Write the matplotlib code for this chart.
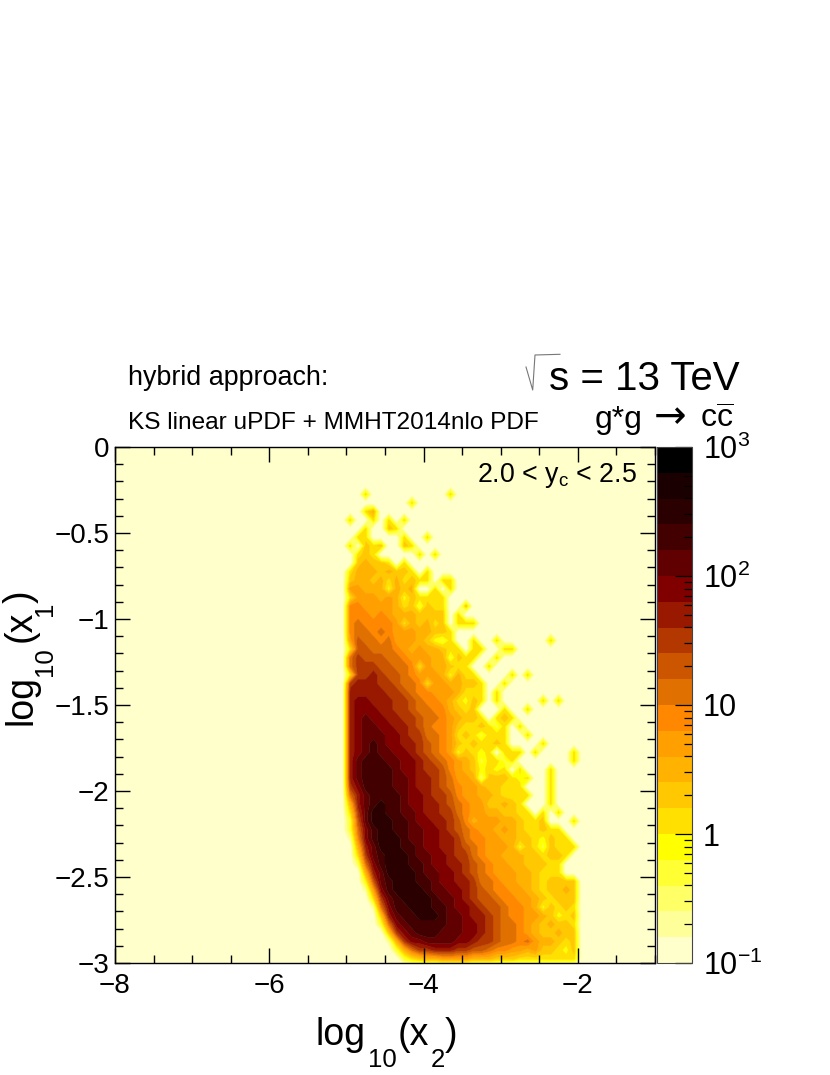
import numpy as np
import matplotlib
matplotlib.use("Agg")
import matplotlib.pyplot as plt
from matplotlib.colors import ListedColormap, BoundaryNorm
from matplotlib.lines import Line2D

plt.rcParams["font.family"] = ["Liberation Sans", "DejaVu Sans"]
plt.rcParams["mathtext.fontset"] = "custom"
plt.rcParams["mathtext.rm"] = "Liberation Sans"
plt.rcParams["mathtext.it"] = "Liberation Sans"
plt.rcParams["mathtext.bf"] = "Liberation Sans"

# Palette of the z axis, bottom band to top band (20 bands, 5 per decade)
BAND_COLORS = ["#ffffcc", "#ffff99", "#ffff66", "#ffff33", "#ffff00",
               "#ffe000", "#ffc800", "#ffb300", "#ffa000", "#ff8800",
               "#e07000", "#cc5500", "#b33800", "#981800", "#800000",
               "#600000", "#420000", "#2b0000", "#1a0000", "#000000"]
BAND_CODES = "0123456789abcdefghij"

# log10(x1) bin centres of the table below, top row first
Y_CENTRES = [-0.275 - 0.05 * i for i in range(55)]
# first column of each row sits at log10(x2) = -4.95, one column per 0.1
FIRST_COL_X = -4.95

BAND_ROWS = [
    "00500000000005",
    "000000005",
    "0057",
    "50050505",
    "0050065",
    "05500005005",
    "506560065",
    "056500000505",
    "06766505",
    "57776766505",
    "67767575655055",
    "88777476700505",
    "5888787465555",
    "9988887563655006",
    "999898777666605",
    "9a999985767560555",
    "9aa9a988877665",
    "8baa9a888764350050050000005",
    "5bbaaa9878776550550055",
    "acbbbaa9888773655005",
    "acccbbaa95877655005",
    "5ccdcbba98887475500005" + "05",
    "cdddccbaa958877665005",
    "dddddccba99888755505",
    "deedddccba998754650500000505",
    "deeeddccbaa99765600050" + "05",
    "defeeddccbaa9876650565",
    "deffeeddcba998655653505",
    "defffeedccaa985653555005",
    "defgfeeddcba98656556500005",
    "defgffeedcba984654505550500005",
    "dfgggffeedcba98763553500000005",
    "dfggggfeedccb98764545050005",
    "dfggggffeddcba8872666545005",
    "ceggggffeddcba9887665550005",
    "adfggggfeedccb9887765555005",
    "7dfghggfeeddcba988667650005",
    "5cfhhggffeddcca9887766550505",
    "3bfhhhggfeeddcb978887765560005",
    "3aeghhggffeedcba988787655655",
    "19eghhhgffeeddca9988776654655",
    "07dfhhhggfeeddcba9888746536555",
    "05cfghhhgffeedcca988777665665",
    "02aeghhhggfeeddcba9887766655",
    "007dfhhhhgffeedcba9888776555",
    "004bfghhhggfeeddcaa98877656666",
    "0018eghhhhgffeedcba99887656676",
    "0005cfghhhhgffedcbba9988765666",
    "0001aegghhhggfeedcbba998746565",
    "00006dfgghhhgffeddcba998876456",
    "00003aefgggggffeedcbaa98767665",
    "000006cefgggfffeedcbaa98766766",
    "0000017ceeffffeedccbaa9a877656",
    "00000037accdddccbba99887866546",
    "000000035677888877766655555555",
]

Y_TICKS = [-3, -2.5, -2, -1.5, -1, -0.5, 0]
Y_TICK_LABELS = ["\u22123", "\u22122.5", "\u22122", "\u22121.5", "\u22121", "\u22120.5", "0"]
X_TICKS = [-8, -6, -4, -2]
X_TICK_LABELS = ["\u22128", "\u22126", "\u22124", "\u22122"]
Z_TICKS = [-1, 0, 1, 2, 3]
Z_TICK_LABELS = [r"$10^{-1}$", "1", "10", r"$10^{2}$", r"$10^{3}$"]
Z_MINOR = [2, 3, 4, 5, 6, 7, 8, 9]


# Turn the band rows into a log10(z) grid padded with empty bins up to the frame
def build_grid():
    x = np.arange(-7.95, -0.95, 0.1)
    y = np.array([-0.025 - 0.05 * i for i in range(5)] + Y_CENTRES + [-3.025])
    z = np.full((len(y), len(x)), -1.0)
    first = int(round((FIRST_COL_X - x[0]) / 0.1))
    for r, row in enumerate(BAND_ROWS):
        for c, ch in enumerate(row):
            band = BAND_CODES.index(ch)
            if band > 0:
                z[r + 5, first + c] = -1 + 0.2 * (band + 0.5)
    return x, y, z


# Pixel position in the 830x1075 picture to figure coordinates
def fx(px):
    return px / 830


def fy(py):
    return 1 - py / 1075


def main():
    x, y, z = build_grid()
    levels = np.linspace(-1, 3, 21)
    cmap = ListedColormap(BAND_COLORS)
    norm = BoundaryNorm(levels, cmap.N)

    fig = plt.figure(figsize=(8.3, 10.75), dpi=100)
    ax = fig.add_axes([fx(115), fy(963), fx(655) - fx(115), fy(447) - fy(963)])
    ax.set_facecolor(BAND_COLORS[0])
    cf = ax.contourf(x, y, z, levels=levels, cmap=cmap, norm=norm, antialiased=True)
    cf.set_edgecolor("face")
    cf.set_linewidth(0.3)
    ax.set_xlim(-8, -1)
    ax.set_ylim(-3, 0)

    # ROOT style ticks, inside on all four sides
    ax.set_xticks(X_TICKS)
    ax.set_xticklabels(X_TICK_LABELS)
    ax.set_yticks(Y_TICKS)
    ax.set_yticklabels(Y_TICK_LABELS)
    ax.set_xticks(np.arange(-8, -0.9, 0.5), minor=True)
    ax.set_yticks(np.arange(-3, 0.01, 0.1), minor=True)
    ax.tick_params(which="major", direction="in", top=True, right=True, length=11, width=1.0,
                   labelsize=20)
    ax.tick_params(which="minor", direction="in", top=True, right=True, length=6, width=1.0)
    ax.tick_params(axis="x", which="major", pad=7)
    ax.tick_params(axis="y", which="major", pad=4)
    for spine in ax.spines.values():
        spine.set_linewidth(1.0)

    # z axis
    cax = fig.add_axes([fx(657), fy(963), fx(692) - fx(657), fy(447) - fy(963)])
    cb = fig.colorbar(cf, cax=cax, drawedges=False)
    cb.outline.set_linewidth(0.8)
    cb.outline.set_edgecolor("#444444")
    cax.set_yticks(Z_TICKS)
    cax.set_yticklabels(Z_TICK_LABELS)
    minor = [d + np.log10(m) for d in Z_TICKS[:-1] for m in Z_MINOR]
    cax.set_yticks(minor, minor=True)
    cax.tick_params(which="major", direction="in", length=12, width=0.9, labelsize=22, pad=8)
    cax.tick_params(which="minor", direction="in", length=6, width=0.9)

    # Titles
    fig.text(fx(128), fy(385), "hybrid approach:", fontsize=19.4, ha="left", va="baseline")
    fig.text(fx(128), fy(429), "KS linear uPDF + MMHT2014nlo PDF", fontsize=17.6,
             ha="left", va="baseline")
    fig.text(fx(740), fy(390), "s = 13 TeV", fontsize=29, ha="right", va="baseline")
    fig.add_artist(Line2D([fx(526), fx(532.7), fx(535), fx(560)], [fy(367), fy(390), fy(355), fy(354.3)],
                          color="#777777", lw=0.8, transform=fig.transFigure))
    fig.text(fx(595), fy(428), "g*g", fontsize=23, ha="left", va="baseline")
    fig.text(fx(654), fy(428), "\u2192", fontsize=28, family="DejaVu Sans", ha="left", va="baseline")
    fig.text(fx(700), fy(428), "c$\\overline{\\mathrm{c}}$", fontsize=23, ha="left", va="baseline")
    fig.text(fx(637), fy(482), r"2.0 < y$_{\mathrm{c}}$ < 2.5", fontsize=19.3, ha="right", va="baseline")

    # Axis labels built piece by piece, the subscripts sit far below the baseline
    for px, py, s, size in [(315, 1045, "log", 27), (368, 1067, "10", 18.5), (398, 1045, "(x", 27),
                            (431, 1067, "2", 18.5), (445, 1045, ")", 27)]:
        fig.text(fx(px), fy(py), s, fontsize=size, ha="left", va="baseline")
    for px, py, s, size in [(31, 725, "log", 27), (52, 676, "10", 18.5), (31, 642, "(x", 27),
                            (52, 616, "1", 18.5), (31, 603, ")", 27)]:
        fig.text(fx(px), fy(py), s, fontsize=size, ha="left", va="baseline",
                 rotation=90, rotation_mode="anchor")

    fig.savefig("out.png", dpi=100)
    plt.close(fig)


if __name__ == "__main__":
    main()
